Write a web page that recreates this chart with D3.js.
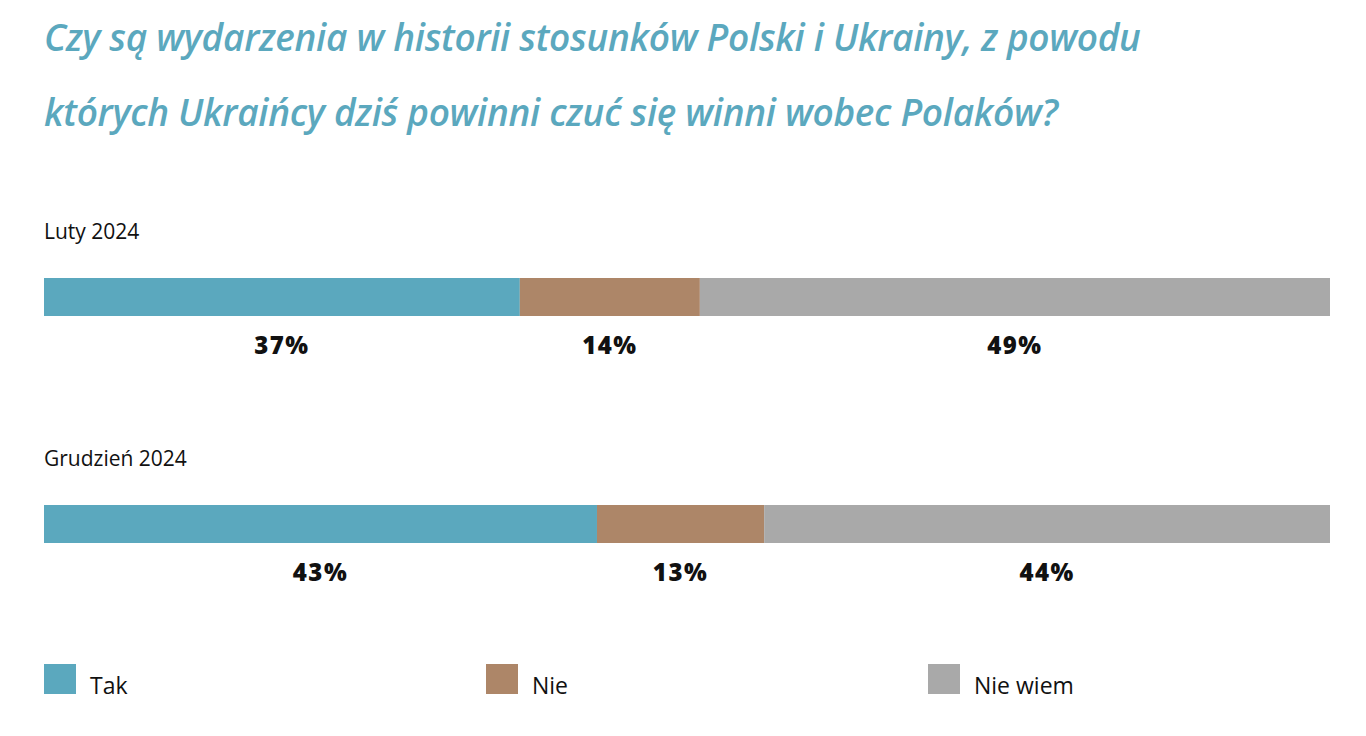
<!DOCTYPE html>
<html><head><meta charset="utf-8">
<script src="https://cdn.jsdelivr.net/npm/d3@7"></script>
<style>body{margin:0;background:#fff}</style></head>
<body><svg id="c" width="1366" height="736"></svg>
<script>
const titleLines = ["Czy są wydarzenia w historii stosunków Polski i Ukrainy, z powodu", "których Ukraińcy dziś powinni czuć się winni wobec Polaków?"];
const periods = ["Luty 2024", "Grudzień 2024"];
const categories = ["Tak", "Nie", "Nie wiem"];
const values = [[37, 14, 49], [43, 13, 44]];
const colors = ["#5ba8be", "#ad8668", "#a9a9a9"];

const svg = d3.select("#c");
const font = "'Open Sans', 'DejaVu Sans', sans-serif";
svg.selectAll("text.title").data(titleLines).enter().append("text")
  .attr("x", 44).attr("y", (d, i) => 51 + i * 75)
  .attr("fill", "#5ba8be").attr("font-family", font).attr("font-size", 37)
  .attr("font-style", "italic").attr("font-weight", 600).attr("letter-spacing", -0.3).text(d => d);

const x = d3.scaleLinear().domain([0, 100]).range([44, 1330]);
const y = d3.scaleBand().domain(periods).range([210, 664]);

periods.forEach((p, i) => {
  const top = y(p);
  svg.append("text").attr("x", 44).attr("y", top + 29).attr("font-family", font)
    .attr("font-size", 21).attr("font-weight", 500).attr("fill", "#111").text(p);
  let acc = 0;
  values[i].forEach((v, j) => {
    const x0 = x(acc), x1 = x(acc + v);
    svg.append("rect").attr("x", x0).attr("y", top + 68).attr("width", x1 - x0)
      .attr("height", 38).attr("fill", colors[j]);
    svg.append("text").attr("x", (x0 + x1) / 2).attr("y", top + 144)
      .attr("text-anchor", "middle").attr("font-family", font).attr("font-size", 24)
      .attr("font-weight", 800).attr("letter-spacing", 1.5).attr("fill", "#111").text(v + "%");
    acc += v;
  });
});

const lx = [44, 486, 928];
categories.forEach((c, j) => {
  svg.append("rect").attr("x", lx[j]).attr("y", 664).attr("width", 32).attr("height", 30).attr("fill", colors[j]);
  svg.append("text").attr("x", lx[j] + 46).attr("y", 694).attr("font-family", font)
    .attr("font-size", 23).attr("font-weight", 500).attr("fill", "#111").text(c);
});
</script></body></html>
